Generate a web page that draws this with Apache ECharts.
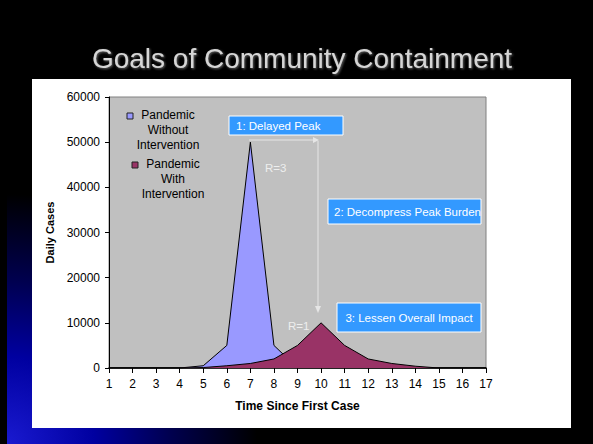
<!DOCTYPE html>
<html>
<head>
<meta charset="utf-8">
<script src="https://cdn.jsdelivr.net/npm/echarts@6/dist/echarts.min.js"></script>
<style>
html,body{margin:0;padding:0;background:#000;}
#chart{width:593px;height:444px;}
</style>
</head>
<body>
<div id="chart"></div>
<script>
const categories = ['1','2','3','4','5','6','7','8','9','10','11','12','13','14','15','16','17'];
const withoutIntervention = [0,0,0,0,500,5000,50000,5000,0,0,0,0,0,0,0,0,0];
const withIntervention = [0,0,0,0,100,500,1000,2000,5000,10000,5000,2000,1000,400,0,0,0];
const seriesNames = ['Pandemic Without Intervention','Pandemic With Intervention'];
const yTicks = {min:0, max:60000, interval:10000};
const titleText = 'Goals of Community Containment';
const xTitle = 'Time Since First Case';
const yTitle = 'Daily Cases';

const FONT = '"Liberation Sans", Arial, sans-serif';
const chart = echarts.init(document.getElementById('chart'), null, {renderer:'svg'});

const option = {
  animation:false,
  backgroundColor:'#000',
  grid:{left:109, right:107, top:97, bottom:76, show:true, backgroundColor:'#c0c0c0', borderColor:'#808080', borderWidth:1},
  xAxis:{
    type:'category', data:categories, boundaryGap:false,
    name:xTitle, nameLocation:'middle', nameGap:32,
    nameTextStyle:{fontFamily:FONT, fontSize:12, fontWeight:'bold', color:'#000'},
    axisLine:{lineStyle:{color:'#000', width:1.5}},
    axisTick:{show:true, length:5, lineStyle:{color:'#000'}},
    axisLabel:{fontFamily:FONT, fontSize:12, color:'#000', margin:10, interval:0},
    splitLine:{show:false}
  },
  yAxis:{
    type:'value', min:yTicks.min, max:yTicks.max, interval:yTicks.interval,
    name:yTitle, nameLocation:'middle', nameGap:47, nameRotate:90,
    nameTextStyle:{fontFamily:FONT, fontSize:11, fontWeight:'bold', color:'#000'},
    axisLine:{show:true, lineStyle:{color:'#000', width:1}},
    axisTick:{show:true, length:4, lineStyle:{color:'#000'}},
    axisLabel:{fontFamily:FONT, fontSize:12, color:'#000', margin:9, formatter:function(v){return String(v);}},
    splitLine:{show:false}
  },
  series:[
    {name:seriesNames[0], type:'line', data:withoutIntervention, symbol:'none', smooth:false,
     lineStyle:{color:'#000', width:1}, areaStyle:{color:'#9999ff', opacity:1}, z:2},
    {name:seriesNames[1], type:'line', data:withIntervention, symbol:'none', smooth:false,
     lineStyle:{color:'#000', width:1}, areaStyle:{color:'#993366', opacity:1}, z:3}
  ],
  graphic:[
    {type:'rect', z:-30, silent:true, shape:{x:7, y:0, width:586, height:444},
     style:{fill:{type:'radial', x:7, y:444, r:250, global:true,
       colorStops:[{offset:0,color:'#1a1ad0'},{offset:0.35,color:'#0000a0'},{offset:0.65,color:'#000050'},{offset:1,color:'#000000'}]}}},
    {type:'rect', z:-20, silent:true, shape:{x:32, y:79, width:539, height:349}, style:{fill:'#ffffff'}},
    {type:'text', z:50, x:302, y:58,
     style:{text:titleText, fontFamily:FONT, fontSize:28, fill:'#d6d6d6', textAlign:'center', textVerticalAlign:'middle',
       textShadowColor:'rgba(110,110,110,0.9)', textShadowOffsetX:1, textShadowOffsetY:1, textShadowBlur:2,
       shadowColor:'rgba(110,110,110,0.9)', shadowOffsetX:1, shadowOffsetY:1, shadowBlur:2}},
    // legend
    {type:'rect', z:50, shape:{x:127, y:113, width:6, height:6}, style:{fill:'#9999ff', stroke:'#222', lineWidth:1}},
    {type:'text', z:50, x:168, y:130, style:{text:'Pandemic\nWithout\nIntervention', fontFamily:FONT, fontSize:12, lineHeight:15, fill:'#000', textAlign:'center', textVerticalAlign:'middle'}},
    {type:'rect', z:50, shape:{x:132, y:162, width:6, height:6}, style:{fill:'#993366', stroke:'#222', lineWidth:1}},
    {type:'text', z:50, x:173, y:179, style:{text:'Pandemic\nWith\nIntervention', fontFamily:FONT, fontSize:12, lineHeight:15, fill:'#000', textAlign:'center', textVerticalAlign:'middle'}},
    // annotation boxes
    {type:'rect', z:50, shape:{x:229, y:116, width:114, height:19}, style:{fill:'#3399ff', stroke:'#ffffff', lineWidth:1}},
    {type:'text', z:51, x:236, y:126, style:{text:'1: Delayed Peak', fontFamily:FONT, fontSize:11.5, fill:'#fff', textAlign:'left', textVerticalAlign:'middle'}},
    {type:'rect', z:50, shape:{x:328, y:199, width:153, height:25}, style:{fill:'#3399ff', stroke:'#ffffff', lineWidth:1}},
    {type:'text', z:51, x:334, y:212, style:{text:'2: Decompress Peak Burden', fontFamily:FONT, fontSize:11.5, fill:'#fff', textAlign:'left', textVerticalAlign:'middle'}},
    {type:'rect', z:50, shape:{x:337, y:303, width:144, height:29}, style:{fill:'#3399ff', stroke:'#ffffff', lineWidth:1}},
    {type:'text', z:51, x:409, y:318, style:{text:'3: Lessen Overall Impact', fontFamily:FONT, fontSize:11.5, fill:'#fff', textAlign:'center', textVerticalAlign:'middle'}},
    // arrows
    {type:'polyline', z:50, shape:{points:[[249,140],[316,140]]}, style:{stroke:'#e6e6e6', lineWidth:1, fill:null}},
    {type:'polygon', z:50, shape:{points:[[313,137],[319,140],[313,143]]}, style:{fill:'#e6e6e6'}},
    {type:'polyline', z:50, shape:{points:[[318,141],[318,308]]}, style:{stroke:'#e6e6e6', lineWidth:1, fill:null}},
    {type:'polygon', z:50, shape:{points:[[315,306],[318,313],[321,306]]}, style:{fill:'#e6e6e6'}},
    {type:'text', z:51, x:265, y:168, style:{text:'R=3', fontFamily:FONT, fontSize:11.5, fill:'#eeeeee', textAlign:'left', textVerticalAlign:'middle'}},
    {type:'text', z:51, x:288, y:326, style:{text:'R=1', fontFamily:FONT, fontSize:11.5, fill:'#eeeeee', textAlign:'left', textVerticalAlign:'middle'}}
  ]
};
chart.setOption(option);
</script>
</body>
</html>
